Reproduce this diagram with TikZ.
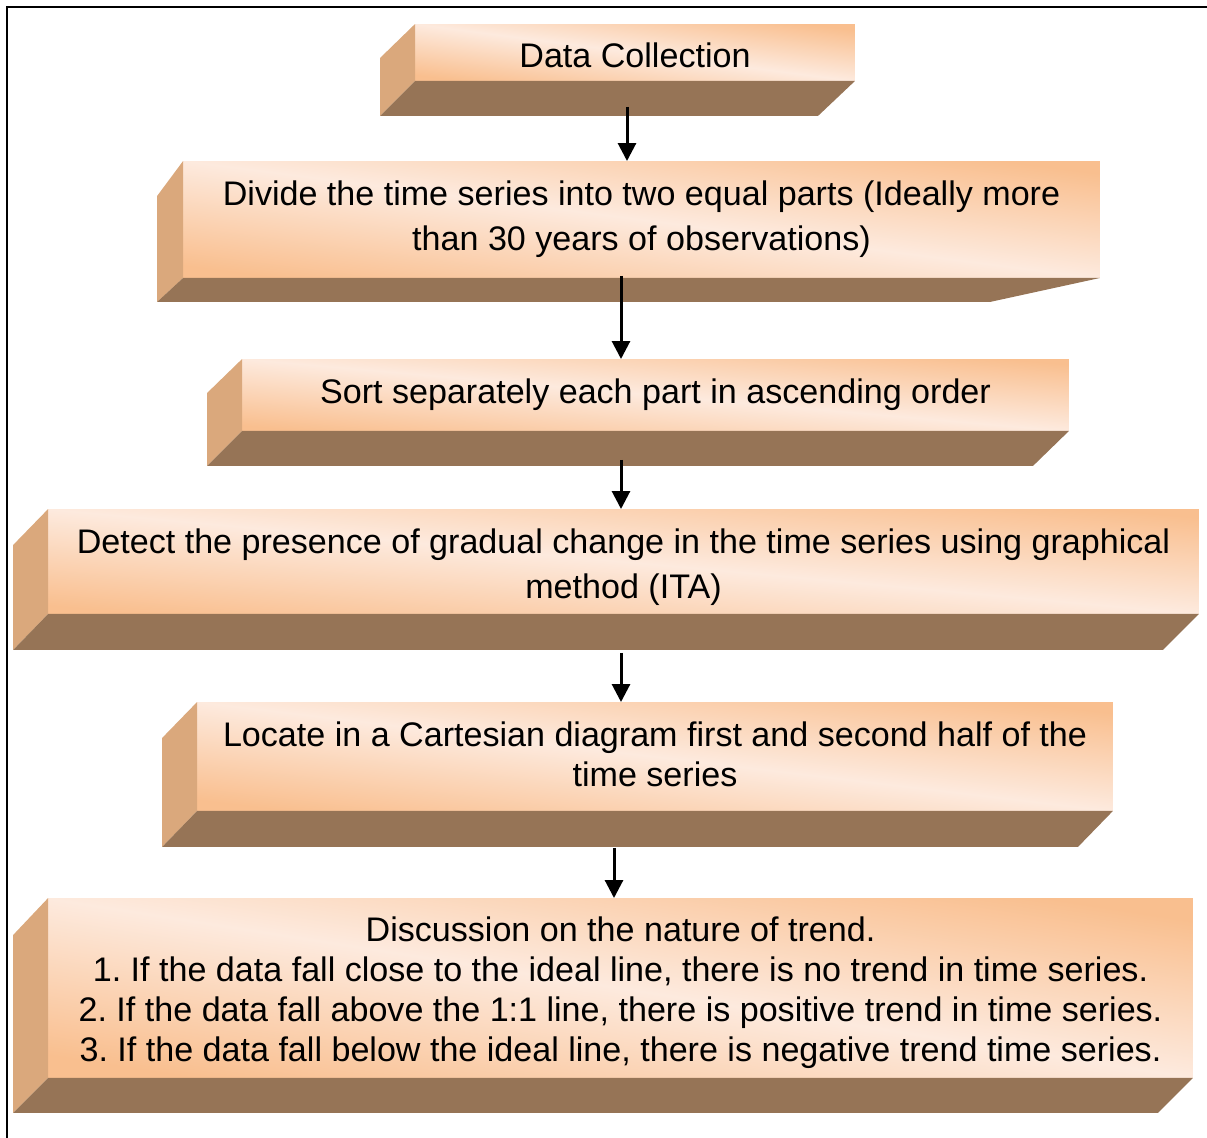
\documentclass[tikz,border=0pt]{standalone}
\usepackage{fontspec}
\setmainfont{Liberation Sans}
\usepackage{tikz}
\usetikzlibrary{calc, positioning, arrows.meta}

\definecolor{peach}{HTML}{F9BF8F}
\definecolor{peachlight}{HTML}{FDEADE}
\definecolor{sidetan}{HTML}{DAA87C}
\definecolor{basebrown}{HTML}{967456}

% side and base faces of a slab: node, top-left, bottom-left, bottom-right offsets
\newcommand{\slab}[4]{%
	\fill[sidetan] (#1.north west) -- ($(#1.north west)+#2$) -- ($(#1.south west)+#3$) -- (#1.south west) -- cycle;
	\fill[basebrown] (#1.south west) -- ($(#1.south west)+#3$) -- ($(#1.south east)+#4$) -- (#1.south east) -- cycle;
}

\begin{document}
\begin{tikzpicture}[x=0.02cm, y=-0.02cm,
	stage/.style={inner sep=0pt, outer sep=0pt, top color=peach, bottom color=peach, middle color=peachlight, shading angle=#1},
	caption/.style={align=center, inner sep=0pt, font=\fontsize{19.4pt}{22.8pt}\selectfont\frenchspacing},
	flow/.style={-{Triangle[length=0.36cm, width=0.36cm]}, line width=0.06cm}]

		\useasboundingbox (0,0) rectangle (1207,1138);

		% frame %
		\draw[line width=0.04cm] (7,1138) -- (7,7) -- (1207,7);

		% nodes - the steps %
		\node[stage={-7.4}, minimum width=8.8cm, minimum height=1.14cm,
			label={[caption, yshift=-0.06cm]center:Data Collection}] (collect) at (635,52.5) {};
		\node[stage={-7.3}, minimum width=18.34cm, minimum height=2.34cm,
			label={[caption]center:{Divide the time series into two equal parts (Ideally more\\[2.8pt] than 30 years of observations)}}] (divide) at (641.5,219.5) {};
		\node[stage={-5.0}, minimum width=16.54cm, minimum height=1.44cm,
			label={[caption]center:Sort separately each part in ascending order}] (sort) at (655.5,395) {};
		\node[stage={-5.2}, minimum width=23.02cm, minimum height=2.1cm,
			label={[caption, yshift=-0.12cm]center:{Detect the presence of gradual change in the time series using graphical\\[2.8pt] method (ITA)}}] (detect) at (623.5,561.5) {};
		\node[stage={-6.8}, minimum width=18.32cm, minimum height=2.18cm,
			label={[caption, yshift=0.04cm]center:{Locate in a Cartesian diagram first and second half of the\\ time series}}] (locate) at (655,756.5) {};
		\node[stage={-8.9}, minimum width=22.9cm, minimum height=3.6cm,
			label={[caption, yshift=-0.1cm]center:{Discussion on the nature of trend.\\
			1. If the data fall close to the ideal line, there is no trend in time series.\\
			2. If the data fall above the 1:1 line, there is positive trend in time series.\\
			3. If the data fall below the ideal line, there is negative trend time series.}}] (discuss) at (620.5,988) {};

		% faces %
		\slab{collect}{(-35,34)}{(-35,35)}{(-37,35)}
		\slab{divide}{(-26,35)}{(-26,24)}{(-110,24)}
		\slab{sort}{(-35,34)}{(-35,35)}{(-36,35)}
		\slab{detect}{(-35,36)}{(-35,36)}{(-36,36)}
		\slab{locate}{(-35,36)}{(-35,36)}{(-35,36)}
		\slab{discuss}{(-35,37)}{(-35,35)}{(-35,35)}

		% edges %
		\draw[flow] ($(collect.south)+(-8,26)$) coordinate (t1) -- (divide.north -| t1);
		\draw[flow] ($(divide.south)+(-20.5,-2)$) coordinate (t2) -- (sort.north -| t2);
		\draw[flow] ($(sort.south)+(-34.5,29)$) coordinate (t3) -- (detect.north -| t3);
		\draw[flow] ($(detect.south)+(-2.5,39)$) coordinate (t4) -- (locate.north -| t4);
		\draw[flow] ($(locate.south)+(-41,37)$) coordinate (t5) -- (discuss.north -| t5);

		\end{tikzpicture}
\end{document}
